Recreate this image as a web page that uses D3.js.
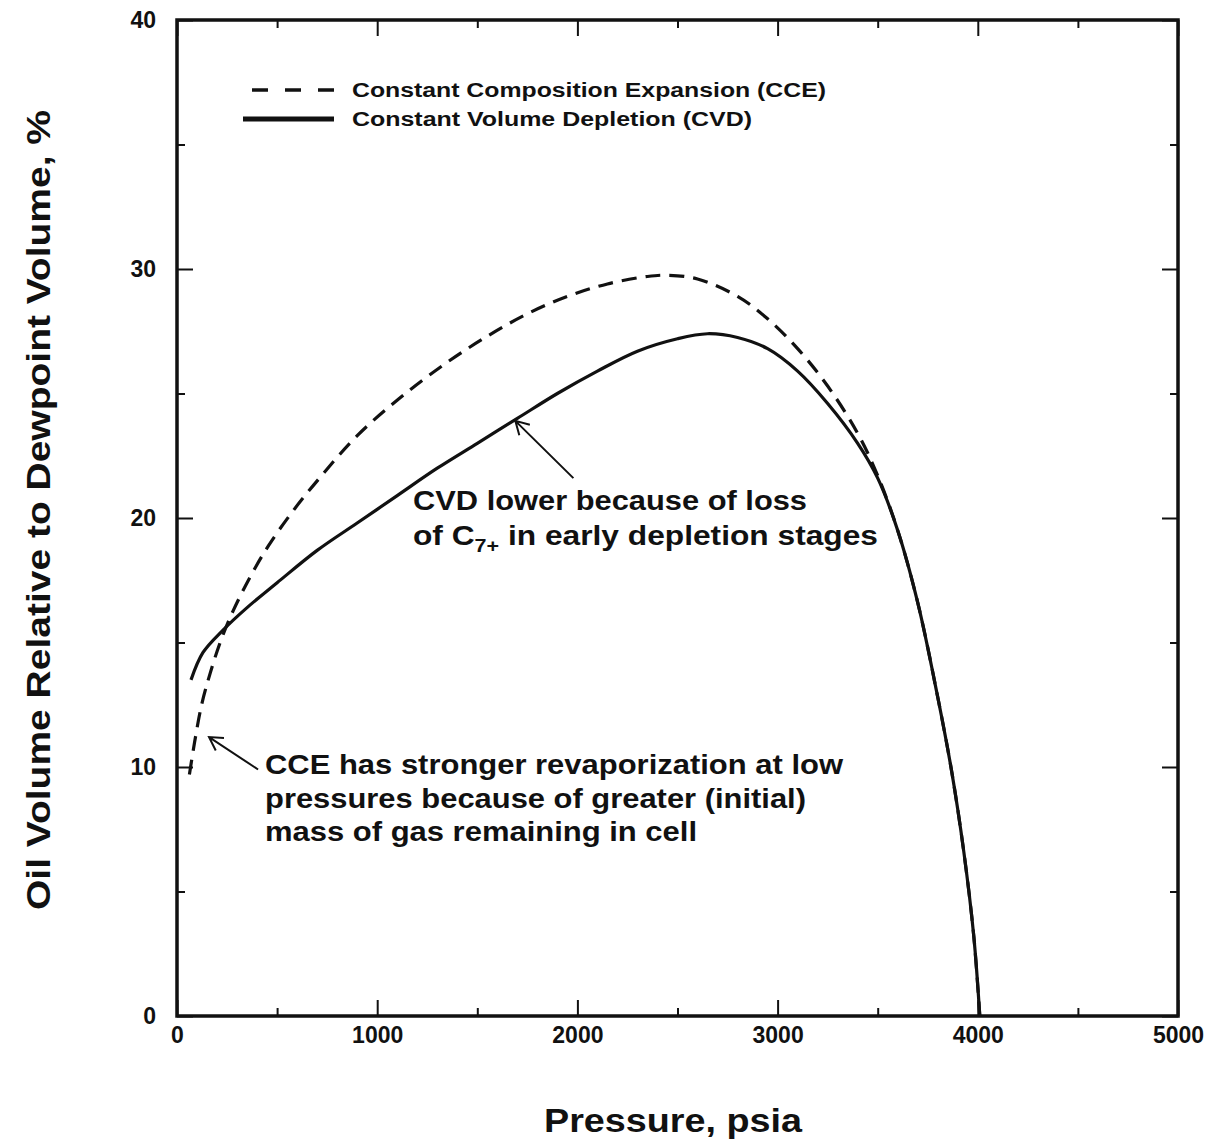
<!DOCTYPE html>
<html>
<head>
<meta charset="utf-8">
<script src="https://cdn.jsdelivr.net/npm/d3@7"></script>
<style>
  html, body { margin: 0; padding: 0; background: #fff; }
  svg { display: block; }
  text { font-family: "Liberation Sans", Arial, Helvetica, sans-serif; font-weight: bold; fill: #111; }
</style>
</head>
<body>
<svg id="chart" width="1213" height="1144"></svg>
<script>
// Pressure (psia) and oil volume (% of dewpoint volume)
const cvdPressure = [70, 130, 230, 350, 500, 700, 900, 1100, 1300, 1500, 1700, 1900, 2100, 2300, 2500, 2650, 2800, 2950, 3100, 3250, 3400, 3500, 3600, 3700, 3800, 3870, 3930, 3980, 4010];
const cvdVolume   = [13.5, 14.6, 15.5, 16.4, 17.4, 18.7, 19.8, 20.9, 22.0, 23.0, 24.0, 25.0, 25.9, 26.7, 27.2, 27.4, 27.25, 26.8, 25.9, 24.6, 23.0, 21.6, 19.5, 16.6, 12.8, 9.8, 6.6, 3.2, 0];

const ccePressure = [62, 88, 123, 167, 220, 282, 370, 458, 581, 722, 899, 1110, 1340, 1550, 1750, 1950, 2150, 2350, 2450, 2600, 2800, 2950, 3100, 3250, 3400, 3500, 3600, 3700, 3800, 3870, 3930, 3980, 4010];
const cceVolume   = [9.7, 11.0, 12.5, 13.8, 15.1, 16.3, 17.7, 18.9, 20.3, 21.7, 23.3, 24.8, 26.2, 27.3, 28.2, 28.9, 29.4, 29.7, 29.75, 29.6, 28.9, 28.0, 26.8, 25.3, 23.4, 21.7, 19.5, 16.6, 12.8, 9.8, 6.6, 3.2, 0];

const xMajorTicks = [0, 1000, 2000, 3000, 4000, 5000];
const xMinorTicks = [500, 1500, 2500, 3500, 4500];
const yMajorTicks = [0, 10, 20, 30, 40];
const yMinorTicks = [5, 15, 25, 35];

const legendLabels = ["Constant Composition Expansion (CCE)", "Constant Volume Depletion (CVD)"];
const xTitle = "Pressure, psia";
const yTitle = "Oil Volume Relative to Dewpoint Volume, %";

const svg = d3.select("#chart");
const plotLeft = 177, plotRight = 1178, plotTop = 20, plotBottom = 1016;

const x = d3.scaleLinear().domain([0, 5000]).range([plotLeft, plotRight]);
const y = d3.scaleLinear().domain([0, 40]).range([plotBottom, plotTop]);

// Frame ticks (all pointing inward)
function styleAxis(g) {
  g.select(".domain").remove();
  g.selectAll(".tick line").attr("stroke", "#111").attr("stroke-width", 2);
}
function styleLabels(g) {
  g.selectAll("text").attr("font-size", 23).attr("font-weight", "bold")
    .attr("font-family", "Liberation Sans, Arial, sans-serif").attr("fill", "#111");
}
svg.append("g").attr("transform", `translate(0,${plotBottom})`)
  .call(d3.axisBottom(x).tickValues(xMajorTicks).tickSize(-16).tickPadding(11).tickFormat(d3.format("d")))
  .call(styleAxis).call(styleLabels);
svg.append("g").attr("transform", `translate(0,${plotBottom})`)
  .call(d3.axisBottom(x).tickValues(xMinorTicks).tickSize(-8).tickFormat(""))
  .call(styleAxis);
svg.append("g").attr("transform", `translate(0,${plotTop})`)
  .call(d3.axisTop(x).tickValues(xMajorTicks).tickSize(-16).tickFormat(""))
  .call(styleAxis);
svg.append("g").attr("transform", `translate(0,${plotTop})`)
  .call(d3.axisTop(x).tickValues(xMinorTicks).tickSize(-8).tickFormat(""))
  .call(styleAxis);

svg.append("g").attr("transform", `translate(${plotLeft},0)`)
  .call(d3.axisLeft(y).tickValues(yMajorTicks).tickSize(-16).tickPadding(21).tickFormat(d3.format("d")))
  .call(styleAxis).call(styleLabels);
svg.append("g").attr("transform", `translate(${plotLeft},0)`)
  .call(d3.axisLeft(y).tickValues(yMinorTicks).tickSize(-8).tickFormat(""))
  .call(styleAxis);
svg.append("g").attr("transform", `translate(${plotRight},0)`)
  .call(d3.axisRight(y).tickValues(yMajorTicks).tickSize(-16).tickFormat(""))
  .call(styleAxis);
svg.append("g").attr("transform", `translate(${plotRight},0)`)
  .call(d3.axisRight(y).tickValues(yMinorTicks).tickSize(-8).tickFormat(""))
  .call(styleAxis);

// Plot frame
svg.append("rect")
  .attr("x", plotLeft).attr("y", plotTop)
  .attr("width", plotRight - plotLeft).attr("height", plotBottom - plotTop)
  .attr("fill", "none").attr("stroke", "#111").attr("stroke-width", 3.5);

// Curves
const cvd = cvdPressure.map((p, i) => [p, cvdVolume[i]]);
const cce = ccePressure.map((p, i) => [p, cceVolume[i]]);
const line = d3.line().x(d => x(d[0])).y(d => y(d[1])).curve(d3.curveCatmullRom.alpha(0.5));

svg.append("path").datum(cvd)
  .attr("d", line).attr("fill", "none")
  .attr("stroke", "#111").attr("stroke-width", 3.2).attr("stroke-linejoin", "round");
svg.append("path").datum(cce)
  .attr("d", line).attr("fill", "none")
  .attr("stroke", "#111").attr("stroke-width", 3.2)
  .attr("stroke-dasharray", "15,9");

// Legend
const legend = svg.append("g");
legend.append("line").attr("x1", 252).attr("x2", 334).attr("y1", 90).attr("y2", 90)
  .attr("stroke", "#111").attr("stroke-width", 3.5).attr("stroke-dasharray", "16,17");
legend.append("line").attr("x1", 243).attr("x2", 334).attr("y1", 119).attr("y2", 119)
  .attr("stroke", "#111").attr("stroke-width", 5);
legend.append("text").attr("x", 352).attr("y", 97).attr("font-size", 20)
  .attr("textLength", 474).attr("lengthAdjust", "spacingAndGlyphs").text(legendLabels[0]);
legend.append("text").attr("x", 352).attr("y", 126).attr("font-size", 20)
  .attr("textLength", 400).attr("lengthAdjust", "spacingAndGlyphs").text(legendLabels[1]);

// Annotations
function arrow(from, to) {
  const x0 = x(from[0]), y0 = y(from[1]), x1 = x(to[0]), y1 = y(to[1]);
  const ang = Math.atan2(y1 - y0, x1 - x0);
  const len = 15, spread = Math.PI / 6;
  const p = `M${x0},${y0}L${x1},${y1}` +
    `M${x1 - len * Math.cos(ang - spread)},${y1 - len * Math.sin(ang - spread)}L${x1},${y1}` +
    `L${x1 - len * Math.cos(ang + spread)},${y1 - len * Math.sin(ang + spread)}`;
  svg.append("path").attr("d", p).attr("fill", "none").attr("stroke", "#111")
    .attr("stroke-width", 2).attr("stroke-linejoin", "miter");
}
arrow([1980, 21.6], [1690, 23.9]);
arrow([405, 9.9], [160, 11.2]);

svg.append("text").attr("x", 413).attr("y", 510).attr("font-size", 28)
  .attr("textLength", 394).attr("lengthAdjust", "spacingAndGlyphs")
  .text("CVD lower because of loss");
const t2 = svg.append("text").attr("x", 413).attr("y", 545).attr("font-size", 28)
  .attr("textLength", 465).attr("lengthAdjust", "spacingAndGlyphs");
t2.append("tspan").text("of C");
t2.append("tspan").attr("font-size", 19).attr("dy", 7).text("7+");
t2.append("tspan").attr("dy", -7).text(" in early depletion stages");

const cceNote = ["CCE has stronger revaporization at low", "pressures because of greater (initial)", "mass of gas remaining in cell"];
const cceWidths = [578, 541, 432];
cceNote.forEach((s, i) => {
  svg.append("text").attr("x", 265).attr("y", 774 + i * 33.5).attr("font-size", 28)
    .attr("textLength", cceWidths[i]).attr("lengthAdjust", "spacingAndGlyphs").text(s);
});

// Axis titles
svg.append("text").attr("x", 673).attr("y", 1132).attr("text-anchor", "middle")
  .attr("font-size", 34).attr("textLength", 258).attr("lengthAdjust", "spacingAndGlyphs").text(xTitle);
svg.append("text").attr("transform", "translate(50,510) rotate(-90)").attr("text-anchor", "middle")
  .attr("font-size", 33).attr("textLength", 800).attr("lengthAdjust", "spacingAndGlyphs").text(yTitle);
</script>
</body>
</html>
